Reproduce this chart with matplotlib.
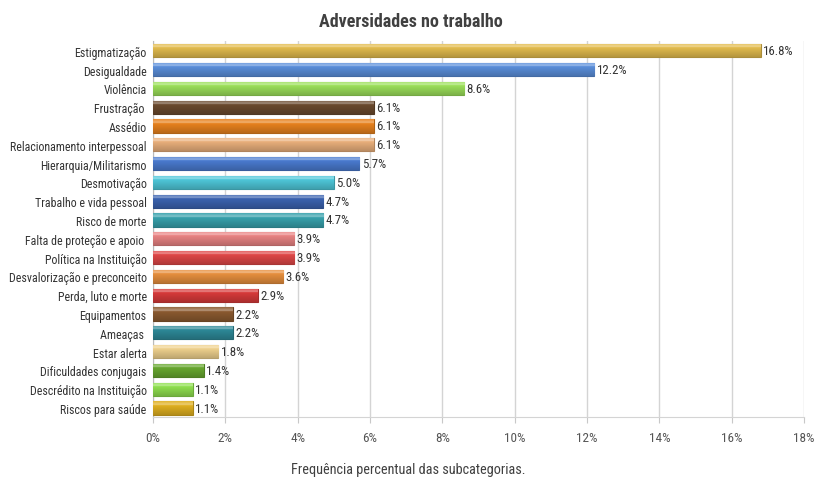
"""Adversidades no trabalho - barras horizontais."""

import numpy as np
import matplotlib
matplotlib.use("Agg")
import matplotlib.pyplot as plt
from matplotlib.colors import to_rgb

categorias = [
    "Estigmatização", "Desigualdade", "Violência", "Frustração ", "Assédio",
    "Relacionamento interpessoal", "Hierarquia/Militarismo", "Desmotivação",
    "Trabalho e vida pessoal", "Risco de morte", "Falta de proteção e apoio ",
    "Política na Instituição", "Desvalorização e preconceito",
    "Perda, luto e morte", "Equipamentos", "Ameaças ", "Estar alerta",
    "Dificuldades conjugais", "Descrédito na Instituição", "Riscos para saúde",
]
valores = [16.8, 12.2, 8.6, 6.1, 6.1, 6.1, 5.7, 5.0, 4.7, 4.7,
           3.9, 3.9, 3.6, 2.9, 2.2, 2.2, 1.8, 1.4, 1.1, 1.1]
cores = [
    "#E3BC4E", "#5B8FDB", "#9CE05A", "#6B4A2E", "#E8821E",
    "#EAB07C", "#4A7BD0", "#4FC8DA", "#3B63B0", "#38A2AD",
    "#EA8484", "#E04848", "#E8903E", "#D83A3A", "#8B5A30",
    "#2E8A99", "#F0D28E", "#68A830", "#90E050", "#E0B020",
]
ticks_x = [0, 2, 4, 6, 8, 10, 12, 14, 16, 18]

plt.rcParams["font.family"] = ["Roboto Condensed", "Open Sans Condensed",
                               "IBM Plex Sans Condensed", "Carlito", "DejaVu Sans"]

fig = plt.figure(figsize=(8.16, 4.81), dpi=100)
ax = fig.add_axes([0.1875, 0.13, 0.798, 0.782])

y = np.arange(len(categorias))
bars = ax.barh(y, valores, height=0.7, color=cores, zorder=3)


def clarear(c, f):
    r = np.array(to_rgb(c))
    return r + (1 - r) * f if f > 0 else r * (1 + f)


# brilho vertical em cada barra
t = np.linspace(0, 1, 24)
f = np.where(t < 0.3, 0.35 * (1 - np.abs(t - 0.22) / 0.3), -0.2 * (t - 0.3) / 0.7)
f = np.clip(f, -0.2, 0.4)
for b, c in zip(bars, cores):
    b.set_edgecolor(clarear(c, -0.25))
    b.set_linewidth(0.8)
    x0, y0 = b.get_x(), b.get_y()
    w, h = b.get_width(), b.get_height()
    grad = np.array([clarear(c, v) for v in f])[:, None, :]
    im = ax.imshow(grad, extent=(x0, x0 + w, y0 + h, y0), aspect="auto",
                   zorder=3.5, interpolation="bilinear")
    im.set_clip_path(b)
    ax.text(w + 0.07, y0 + h / 2, f"{w:.1f}%", va="center", ha="left",
            fontsize=9.3, color="#333333", zorder=4)

ax.set_ylim(len(categorias) - 0.5, -0.5)
ax.set_xlim(0, 18)
ax.set_yticks(y)
ax.set_yticklabels(categorias, fontsize=8.6, color="#333333")
ax.set_xticks(ticks_x)
ax.set_xticklabels([f"{t}%" for t in ticks_x], fontsize=9.5, color="#555555")
ax.tick_params(axis="y", length=0, pad=4.5)
ax.tick_params(axis="x", length=4, color="#c8c8c8", pad=6)
ax.grid(axis="x", color="#d4d4d4", linewidth=1, zorder=0)
ax.set_axisbelow(True)
for s in ["top", "right"]:
    ax.spines[s].set_visible(False)
ax.spines["left"].set_color("#bbbbbb")
ax.spines["bottom"].set_color("#d4d4d4")

fig.text(0.503, 0.955, "Adversidades no trabalho", ha="center", va="center",
         fontsize=13, fontweight="bold", color="#404040")
fig.text(0.5, 0.022, "Frequência percentual das subcategorias.", ha="center",
         va="center", fontsize=10.3, color="#404040")

fig.savefig("out.png", dpi=100)
